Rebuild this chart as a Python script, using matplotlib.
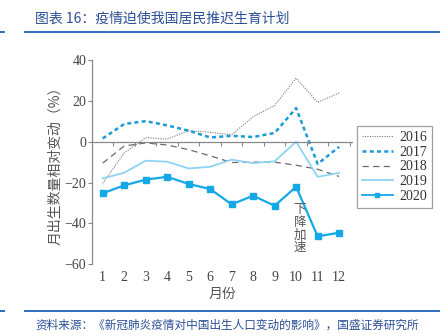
import matplotlib
matplotlib.use('Agg')
import matplotlib.pyplot as plt
from matplotlib.lines import Line2D

plt.rcParams['font.family'] = ['Liberation Serif', 'Noto Sans CJK SC', 'DejaVu Sans']

months = list(range(1, 13))
y2016 = [-20.4, -5.5, 2.0, 1.3, 5.4, 4.6, 3.4, 12.3, 17.8, 31.2, 19.3, 23.9]
y2017 = [1.6, 8.7, 10.1, 8.0, 5.4, 2.1, 2.9, 2.3, 4.3, 16.5, -10.9, -2.5]
y2018 = [-10.5, -2.1, -0.6, -1.6, -3.9, -6.9, -10.2, -10.0, -10.0, -11.5, -13.5, -17.0]
y2019 = [-18.0, -15.2, -9.3, -9.8, -13.1, -12.3, -8.8, -10.5, -9.6, 0.0, -17.2, -15.3]
y2020 = [-25.3, -21.4, -18.6, -17.2, -20.7, -23.2, -30.7, -26.5, -31.4, -22.1, -46.4, -44.6]

title = '图表 16：疫情迫使我国居民推迟生育计划'
source = '资料来源：《新冠肺炎疫情对中国出生人口变动的影响》，国盛证券研究所'
cjk = ['Noto Sans CJK SC', 'DejaVu Sans']
navy = '#2b4f96'
rule = '#2f6cc0'
grey = '#555555'
axis_grey = '#888888'

fig = plt.figure(figsize=(4.4, 3.36), dpi=100)
ax = fig.add_axes([0.209, 0.214, 0.591, 0.607])

styles = {
    '2016': dict(color='#777777', lw=0.8, ls=(0, (1, 1.2))),
    '2017': dict(color='#1b9ad8', lw=1.8, ls=(0, (1.6, 1.3))),
    '2018': dict(color='#6a6a6a', lw=0.9, ls=(0, (5, 3.5))),
    '2019': dict(color='#8fd3f4', lw=1.3),
    '2020': dict(color='#14a8e6', lw=1.6, marker='s', ms=4),
}
ax.plot(months, y2016, **styles['2016'])
ax.plot(months, y2017, **styles['2017'])
ax.plot(months, y2018, **styles['2018'])
ax.plot(months, y2019, **styles['2019'])
ax.plot(months, y2020, **styles['2020'])

ax.set_xlim(0.5, 12.6)
ax.set_ylim(-60, 40)
ax.set_yticks([-60, -40, -20, 0, 20, 40])
ax.set_yticklabels(['−60', '−40', '−20', '0', '20', '40'])
ax.tick_params(axis='y', length=3, width=0.8, color=axis_grey, labelsize=10,
               labelcolor='#444444', pad=1)

# zero line acts as the x axis, ticks sit between months
ax.spines['bottom'].set_position(('data', 0))
ax.spines['bottom'].set_color(axis_grey)
ax.spines['bottom'].set_linewidth(0.9)
ax.set_xticks([m + 0.5 for m in months])
ax.set_xticklabels([])
ax.tick_params(axis='x', length=3, width=0.8, color=axis_grey, direction='out')
for side in ['top', 'right']:
    ax.spines[side].set_visible(False)
ax.spines['left'].set_color(axis_grey)
ax.spines['left'].set_linewidth(0.9)

# month labels along the bottom edge
mon = ax.secondary_xaxis('bottom')
mon.set_xticks(months)
mon.tick_params(length=0, pad=5, labelsize=10, labelcolor='#444444')
mon.spines['bottom'].set_visible(False)
mon.set_xlabel('月份', family=cjk, fontsize=10, color=grey, labelpad=2)

ax.set_ylabel('月出生数量相对变动（%）', family=cjk, fontsize=10, color=grey, labelpad=2)

ax.text(10.17, -42.6, '下\n降\n加\n速', family=cjk, fontsize=9, color=grey,
        ha='center', va='center', linespacing=0.95)

handles = [Line2D([], [], **styles[k]) for k in styles]
handles[-1].set_markersize(3)
handles[-1].set_linewidth(1.3)
leg = ax.legend(handles, list(styles), loc='upper left',
                bbox_to_anchor=(1.02, 0.676), fontsize=10,
                frameon=True, fancybox=False, handlelength=2.2, handletextpad=0.5,
                labelspacing=0.12, borderpad=0.35, borderaxespad=0)
leg.get_frame().set_edgecolor(axis_grey)
leg.get_frame().set_linewidth(0.9)
for t in leg.get_texts():
    t.set_color('#333333')

fig.text(0.08, 0.945, title, family=cjk, fontsize=10, color=navy, style='italic',
         va='center')
for y in (0.905, 0.074):
    fig.add_artist(Line2D([0.0, 0.01], [y, y], color=rule, lw=1.4))
    fig.add_artist(Line2D([0.057, 1.0], [y, y], color=rule, lw=1.4))
fig.text(0.08, 0.033, source, family=cjk, fontsize=8.4, color=navy, style='italic',
         va='center')

fig.savefig('out.png', dpi=100)
